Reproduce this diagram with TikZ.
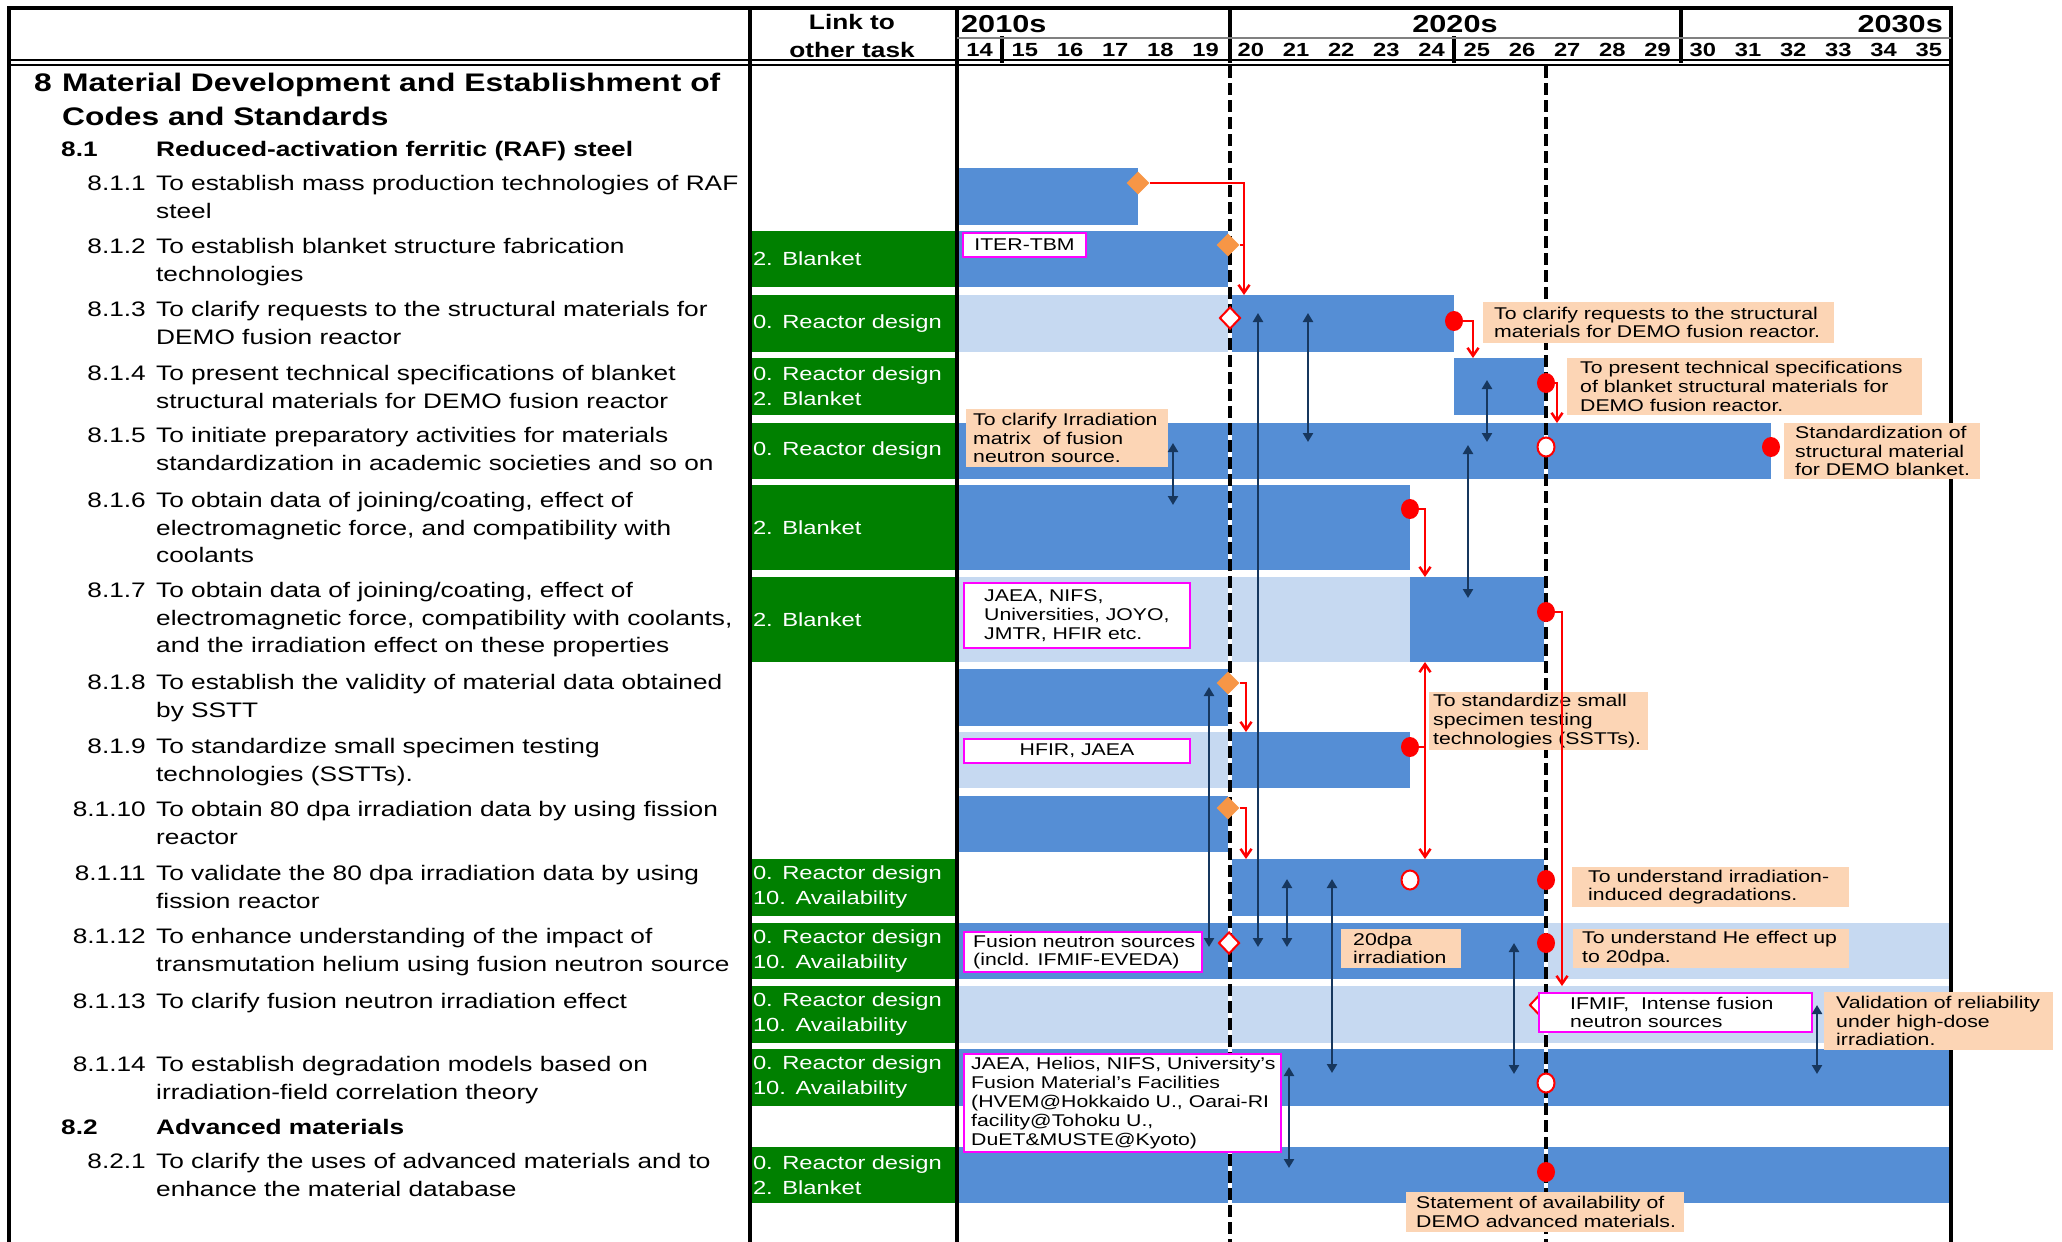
\documentclass[tikz,border=0pt]{standalone}
\usepackage{fontspec}
\setmainfont{Liberation Sans}[FakeStretch=1.25]
\usetikzlibrary{shapes.geometric,arrows.meta}

\definecolor{barblue}{RGB}{85,142,213}
\definecolor{barlight}{RGB}{198,217,241}
\definecolor{linkgreen}{RGB}{0,128,0}
\definecolor{notepeach}{RGB}{252,213,181}
\definecolor{msorange}{RGB}{247,150,70}
\definecolor{depnavy}{RGB}{23,55,94}
\definecolor{refmagenta}{RGB}{255,0,255}

\newcommand\tasktxt{\fontsize{21}{27.6}\selectfont}
\newcommand\titletxt{\fontsize{25.4}{34}\selectfont\bfseries}
\newcommand\linktxt{\fontsize{19}{25}\selectfont}
\newcommand\notetxt{\fontsize{17}{18.8}\selectfont}

\tikzset{
  tablerule/.style={line width=3.5pt, line cap=rect},
  rowbar/.style={fill=barblue},
  rowbarlt/.style={fill=barlight},
  tnum/.style={anchor=north east, inner sep=0pt, font=\tasktxt},
  ttxt/.style={anchor=north west, inner sep=0pt, align=left, font=\tasktxt},
  linkbox/.style={fill=linkgreen, text=white, font=\linktxt, align=left,
    text width=200pt, inner xsep=2pt, inner ysep=0pt},
  notebg/.style={fill=notepeach},
  refbg/.style={draw=refmagenta, fill=white, line width=2.5pt},
  notelbl/.style={anchor=west, inner sep=0pt, align=left, font=\notetxt},
  yearlbl/.style={inner sep=0pt, font=\fontsize{19}{22}\selectfont\bfseries},
  declbl/.style={inner sep=0pt, font=\fontsize{24.5}{28}\selectfont\bfseries},
  msfill/.style={diamond, fill=msorange, minimum width=23pt, minimum height=23pt, inner sep=0pt},
  msopen/.style={diamond, draw=red, fill=white, line width=2pt, minimum width=21pt, minimum height=22pt, inner sep=0pt},
  dotfill/.style={ellipse, fill=red, minimum width=18pt, minimum height=20pt, inner sep=0pt},
  dotopen/.style={ellipse, draw=red, fill=white, line width=2pt, minimum width=17pt, minimum height=19pt, inner sep=0pt},
  redlink/.style={red, line width=2.5pt, ->, >={Straight Barb[length=8pt,width=11pt]}},
  deparrow/.style={depnavy, line width=2.5pt, <->, >={Triangle[length=9pt,width=10pt]}},
}

\begin{document}
\begin{tikzpicture}[x=1pt, y=-1pt]
\useasboundingbox (0,0) rectangle (2062,1242);

% schedule bars
\foreach \xa/\xb/\ya/\yb in {957/1138/168/225, 957/1230/231/287, 1230/1454/295/352,
    1454/1546/358/415, 957/1771/423/479, 957/1410/485/570, 1410/1546/577/662,
    957/1230/669/726, 1230/1410/732/788, 957/1230/796/852, 1230/1546/859/916,
    957/1546/923/979, 957/1951/1049/1106, 957/1951/1147/1203}
  \fill[rowbar] (\xa,\ya) rectangle (\xb,\yb);
\foreach \xa/\xb/\ya/\yb in {957/1230/295/352, 957/1410/577/662, 957/1230/732/788,
    1546/1951/923/979, 957/1951/986/1043}
  \fill[rowbarlt] (\xa,\ya) rectangle (\xb,\yb);

% links to other tasks
\foreach \n/\yc/\h/\txt in {812/259/56/{2. Blanket}, 813/323.5/57/{0. Reactor design},
    814/386.5/57/{0. Reactor design\\2. Blanket}, 815/451/56/{0. Reactor design},
    816/527.5/85/{2. Blanket}, 817/619.5/85/{2. Blanket},
    8111/887.5/57/{0. Reactor design\\10. Availability},
    8112/951/56/{0. Reactor design\\10. Availability},
    8113/1014.5/57/{0. Reactor design\\10. Availability},
    8114/1077.5/57/{0. Reactor design\\10. Availability},
    821/1175/56/{0. Reactor design\\2. Blanket}}
  \node[linkbox, minimum height=\h pt] (lk\n) at (853,\yc) {\txt};

% table frame
\draw[tablerule] (9,8) -- (1951,8);
\foreach \x in {9,750,957,1951}
  \draw[tablerule] (\x,8) -- (\x,1242);
\foreach \x in {1230,1681}
  \draw[tablerule] (\x,8) -- (\x,61);
\foreach \x in {1002,1454}
  \draw[tablerule] (\x,38) -- (\x,61);
\draw[line width=2pt] (9,60) -- (1951,60) (9,65) -- (1951,65);
\draw[gray, line width=2pt] (957,38) -- (1951,38);

% 2020 and 2027
\foreach \x in {1230,1546} {
  \draw[white, line width=3.5pt] (\x,66) -- (\x,1242);
  \draw[line width=3.5pt, dash pattern=on 12pt off 5pt] (\x,66) -- (\x,1242);
}

% header
\node[align=center, inner sep=0pt, font=\fontsize{21}{28}\selectfont\bfseries] (hdlink) at (852,36) {Link to\\other task};
\node[declbl, anchor=west] (dec10) at (961,24) {2010s};
\node[declbl] (dec20) at (1455,24) {2020s};
\node[declbl, anchor=east] (dec30) at (1943,24) {2030s};
\foreach \yr [count=\i from 0] in {14,...,35}
  \node[yearlbl] (yr\yr) at ({979.6+45.2*\i},50) {\yr};

% task list
\node[anchor=north west, inner sep=0pt, font=\titletxt] (sec8n) at (34,67) {\strut 8};
\node[anchor=north west, inner sep=0pt, align=left, font=\titletxt] (sec8) at (62,67)
  {\strut Material Development and Establishment of\\Codes and Standards};
\node[anchor=north west, inner sep=0pt, font=\tasktxt\bfseries] (sec81n) at (61,137) {\strut 8.1};
\node[anchor=north west, inner sep=0pt, font=\tasktxt\bfseries] (sec81) at (156,137) {\strut Reduced-activation ferritic (RAF) steel};
\node[anchor=north west, inner sep=0pt, font=\tasktxt\bfseries] (sec82n) at (61,1115) {\strut 8.2};
\node[anchor=north west, inner sep=0pt, font=\tasktxt\bfseries] (sec82) at (156,1115) {\strut Advanced materials};
\foreach \n/\num/\y/\txt in {
    811/8.1.1/171/{To establish mass production technologies of RAF\\steel},
    812/8.1.2/234/{To establish blanket structure fabrication\\technologies},
    813/8.1.3/297/{To clarify requests to the structural materials for\\DEMO fusion reactor},
    814/8.1.4/361/{To present technical specifications of blanket\\structural materials for DEMO fusion reactor},
    815/8.1.5/423/{To initiate preparatory activities for materials\\standardization in academic societies and so on},
    816/8.1.6/488/{To obtain data of joining/coating, effect of\\electromagnetic force, and compatibility with\\coolants},
    817/8.1.7/578/{To obtain data of joining/coating, effect of\\electromagnetic force, compatibility with coolants,\\and the irradiation effect on these properties},
    818/8.1.8/670/{To establish the validity of material data obtained\\by SSTT},
    819/8.1.9/734/{To standardize small specimen testing\\technologies (SSTTs).},
    8110/8.1.10/797/{To obtain 80 dpa irradiation data by using fission\\reactor},
    8111/8.1.11/861/{To validate the 80 dpa irradiation data by using\\fission reactor},
    8112/8.1.12/924/{To enhance understanding of the impact of\\transmutation helium using fusion neutron source},
    8113/8.1.13/989/{To clarify fusion neutron irradiation effect},
    8114/8.1.14/1052/{To establish degradation models based on\\irradiation-field correlation theory},
    821/8.2.1/1149/{To clarify the uses of advanced materials and to\\enhance the material database}} {
  \node[tnum] (num\n) at (146,\y) {\strut\num};
  \node[ttxt] (task\n) at (156,\y) {\strut\txt};
}

% hidden milestone of 8.1.13
\node[msopen] (o8113) at (1540,1005) {};

% comments on the bars
\fill[notebg] (1483,302) rectangle (1834,343);
\node[notelbl] (nt813) at (1494,322.5) {To clarify requests to the structural\\materials for DEMO fusion reactor.};
\fill[notebg] (1567,358) rectangle (1922,415);
\node[notelbl] (nt814) at (1580,386.5) {To present technical specifications\\of blanket structural materials for\\DEMO fusion reactor.};
\fill[notebg] (966,409) rectangle (1168,467);
\node[notelbl] (nt815a) at (973,438) {To clarify Irradiation\\matrix\ \ of fusion\\neutron source.};
\fill[notebg] (1784,423) rectangle (1980,479);
\node[notelbl] (nt815b) at (1795,451) {Standardization of\\structural material\\for DEMO blanket.};
\fill[notebg] (1429,692) rectangle (1648,750);
\node[notelbl] (nt819) at (1433,721) {To standardize small\\specimen testing\\technologies (SSTTs).};
\fill[notebg] (1572,867) rectangle (1849,907);
\node[notelbl] (nt8111) at (1588,887) {To understand irradiation-\\induced degradations.};
\fill[notebg] (1341,929) rectangle (1461,968);
\node[notelbl] (nt8112a) at (1353,948.5) {20dpa\\irradiation};
\fill[notebg] (1573,929) rectangle (1849,968);
\node[notelbl] (nt8112b) at (1582,948.5) {To understand He effect up\\to 20dpa.};
\fill[notebg] (1824,992) rectangle (2053,1050);
\node[notelbl] (nt8113) at (1836,1021) {Validation of reliability\\under high-dose\\irradiation.};
\fill[notebg] (1406,1192) rectangle (1684,1232);
\node[notelbl] (nt821) at (1416,1212) {Statement of availability of\\DEMO advanced materials.};

% facilities
\draw[refbg] (963,233) rectangle (1086,257);
\node[notelbl, anchor=center] (rf812) at (1024.5,245) {ITER-TBM};
\draw[refbg] (964,583) rectangle (1190,648);
\node[notelbl] (rf817) at (984,615.5) {JAEA, NIFS,\\Universities, JOYO,\\JMTR, HFIR etc.};
\draw[refbg] (964,739) rectangle (1190,763);
\node[notelbl, anchor=center] (rf819) at (1077,751) {HFIR, JAEA};
\draw[refbg] (964,932) rectangle (1202,972);
\node[notelbl] (rf8112) at (973,952) {Fusion neutron sources\\(incld. IFMIF-EVEDA)};
\draw[refbg] (1539,993) rectangle (1812,1032);
\node[notelbl] (rf8113) at (1570,1012.5) {IFMIF,\ \ Intense fusion\\neutron sources};
\draw[refbg] (964,1054) rectangle (1281,1152);
\node[notelbl] (rf8114) at (971,1103) {JAEA, Helios, NIFS, University’s\\Fusion Material’s Facilities\\(HVEM@Hokkaido U., Oarai-RI\\facility@Tohoku U.,\\DuET\&MUSTE@Kyoto)};

% milestones
\node[msfill] (d811) at (1138,183) {};
\node[msfill] (d812) at (1228,245) {};
\node[msfill] (d818) at (1228,683) {};
\node[msfill] (d8110) at (1228,808) {};
\node[msopen] (o813) at (1230,318) {};
\node[msopen] (o8112) at (1229,943) {};
\node[dotfill] (c813) at (1454,321) {};
\node[dotfill] (c814) at (1546,383) {};
\node[dotopen] (e815) at (1546,447) {};
\node[dotfill] (c815) at (1771,447) {};
\node[dotfill] (c816) at (1410,509) {};
\node[dotfill] (c817) at (1546,612) {};
\node[dotfill] (c819) at (1410,747) {};
\node[dotopen] (e8111) at (1410,880) {};
\node[dotfill] (c8111) at (1546,880) {};
\node[dotfill] (c8112) at (1546,943) {};
\node[dotopen] (e8114) at (1546,1083) {};
\node[dotfill] (c821) at (1546,1172) {};

% outputs handed to later tasks
\coordinate (tg813) at (1244,295);
\coordinate (tg814) at (1473,358);
\coordinate (tg815) at (1557,423);
\coordinate (tg817) at (1425,577);
\coordinate (tg817b) at (1425,662);
\coordinate (tg819) at (1246,732);
\coordinate (tg8111) at (1425,859);
\coordinate (tg8111b) at (1246,859);
\coordinate (tg8113) at (1562,986);
\draw[redlink] (d811.east) -| (tg813);
\draw[redlink, -] (d812.east) -- (d812.east -| tg813);
\draw[redlink] (c813.east) -| (tg814);
\draw[redlink] (c814.east) -| (tg815);
\draw[redlink] (c816.east) -| (tg817);
\draw[redlink] (c817.east) -| (tg8113);
\draw[redlink] (d818.east) -| (tg819);
\draw[redlink] (c819.east) -| (tg817b);
\draw[redlink] (c819.east) -| (tg8111);
\draw[redlink] (d8110.east) -| (tg8111b);

% mutual dependencies
\foreach \n/\x/\ya/\yb in {1/1258/313/947, 2/1308/313/442, 3/1487/380/442,
    4/1173/443/505, 5/1468/445/598, 6/1209/687/947, 7/1287/879/947,
    8/1332/879/1073, 9/1514/943/1074, 10/1817/1005/1074, 11/1289/1067/1168} {
  \coordinate (dpa\n) at (\x,\ya);
  \coordinate (dpb\n) at (\x,\yb);
  \draw[deparrow] (dpa\n) -- (dpb\n);
}
\end{tikzpicture}
\end{document}
